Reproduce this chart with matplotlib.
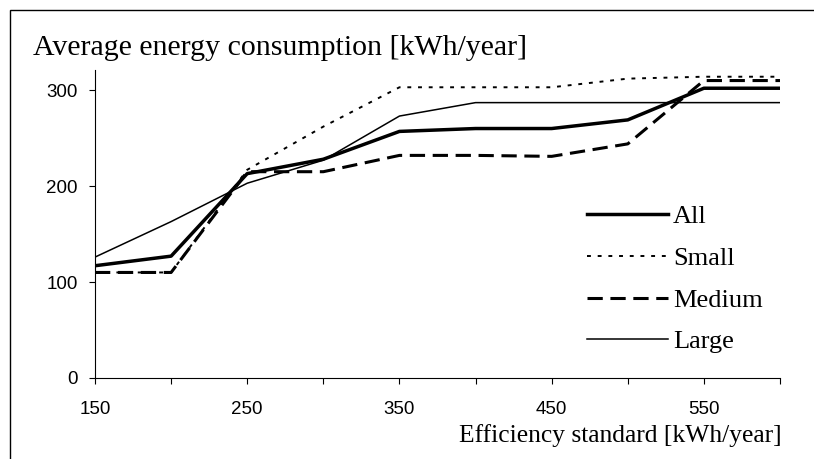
import matplotlib
matplotlib.use("Agg")
import matplotlib.pyplot as plt
from matplotlib.patches import Rectangle

# efficiency standard (kWh/year) and average consumption per group
standards = [150, 200, 250, 300, 350, 400, 450, 500, 550, 600]
all_hh = [117, 127, 213, 228, 257, 260, 260, 269, 302, 302]
small = [110, 110, 217, 262, 303, 303, 303, 312, 314, 314]
medium = [110, 110, 215, 215, 232, 232, 231, 244, 310, 310]
large = [126, 163, 203, 227, 273, 287, 287, 287, 287, 287]

x_ticks = list(range(150, 601, 50))
x_labels = [str(v) if v % 100 == 50 else "" for v in x_ticks]
y_ticks = [0, 100, 200, 300]

serif = "Liberation Serif"
sans = "Liberation Sans"

fig = plt.figure(figsize=(8.14, 4.59), dpi=100)
ax = fig.add_axes([95 / 814, 1 - 378 / 459, (780 - 95) / 814, (378 - 70) / 459])

ax.plot(standards, all_hh, color="black", lw=2.5, label="All")
ax.plot(standards, small, color="black", lw=1.4, ls=(0, (2, 3.5)), label="Small")
ax.plot(standards, medium, color="black", lw=2.2, ls=(0, (5, 2.5)), label="Medium")
ax.plot(standards, large, color="black", lw=1.1, label="Large")

ax.set_xlim(150, 600)
ax.set_ylim(0, 321)
ax.set_xticks(x_ticks)
ax.set_xticklabels(x_labels, fontfamily=sans, fontsize=13.5)
ax.set_yticks(y_ticks)
ax.set_yticklabels([str(v) for v in y_ticks], fontfamily=sans, fontsize=13.5)
ax.tick_params(direction="out", length=4.3, width=0.8, colors="black")
ax.tick_params(axis="x", pad=12)
ax.tick_params(axis="y", pad=8)
for s in ["top", "right"]:
    ax.spines[s].set_visible(False)
for s in ["left", "bottom"]:
    ax.spines[s].set_linewidth(0.8)

ax.legend(loc="upper left", bbox_to_anchor=(0.718, 0.562), frameon=False,
          borderpad=0, borderaxespad=0,
          handlelength=3.07, handletextpad=0.19, labelspacing=0.69,
          prop={"family": serif, "size": 19})

fig.text(33 / 814, 1 - 55 / 459, "Average energy consumption [kWh/year]",
         fontfamily=serif, fontsize=21.5, va="baseline", ha="left")
fig.text(782 / 814, 1 - 442 / 459, "Efficiency standard [kWh/year]",
         fontfamily=serif, fontsize=18.4, va="baseline", ha="right")

# outer frame (left and top edges visible)
fig.patches.append(Rectangle((10 / 814, -0.05), 1.1, 1 - 10 / 459 + 0.05,
                             transform=fig.transFigure, fill=False,
                             edgecolor="black", lw=1.0))

fig.savefig("out.png", dpi=100)
